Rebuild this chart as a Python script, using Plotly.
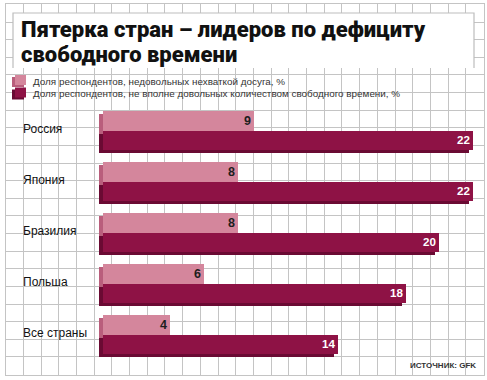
import plotly.graph_objects as go

# ---- data ----
countries = ["Россия", "Япония", "Бразилия", "Польша", "Все страны"]
short_of_leisure = [9, 8, 8, 6, 4]
not_satisfied = [22, 22, 20, 18, 14]
series_names = [
    "Доля респондентов, недовольных нехваткой досуга, %",
    "Доля респондентов, не вполне довольных количеством свободного времени, %",
]
title_lines = ["Пятерка стран – лидеров по дефициту", "свободного времени"]
source_text = "ИСТОЧНИК: GFK"

# ---- styling ----
W, H = 487, 380
LIGHT, LIGHT_SIDE = "#D4869C", "#B95E7C"
DARK, DARK_SIDE = "#8E1245", "#6A0A33"
GRID = "#C4C4C4"

X0_PX, UNIT_PX = 103.0, 16.82      # value axis: pixel of zero, pixels per unit
Y0_PX, GROUP_PX = 131.0, 51.0      # category axis: pixel of first group, pixels per group

def px(x):
    return x / W

def py(y):
    return 1 - y / H

pos = list(range(len(countries)))
shift_x = 4 / UNIT_PX
shift_y = 3 / GROUP_PX
light_w = 20 / GROUP_PX
dark_w = 19 / GROUP_PX

fig = go.Figure()

# empty trace so the background grid subplot is drawn
fig.add_trace(go.Scatter(x=[], y=[], xaxis="x", yaxis="y", showlegend=False, hoverinfo="skip"))

# depth (3D side) of light bars
fig.add_trace(go.Bar(
    x=short_of_leisure, y=pos, base=-shift_x, orientation="h",
    offset=-light_w + shift_y, width=light_w,
    marker=dict(color=LIGHT_SIDE, line=dict(width=0)),
    xaxis="x2", yaxis="y2", showlegend=False, hoverinfo="skip",
))
# light faces
fig.add_trace(go.Bar(
    x=short_of_leisure, y=pos, orientation="h", name=series_names[0],
    offset=-light_w, width=light_w,
    marker=dict(color=LIGHT, line=dict(width=0)),
    text=[str(v) for v in short_of_leisure], textposition="inside",
    insidetextanchor="end", textangle=0,
    textfont=dict(family="Liberation Sans", size=12.5, color="#1E1E1E", weight="bold"),
    xaxis="x2", yaxis="y2", showlegend=False,
))
# depth of dark bars
fig.add_trace(go.Bar(
    x=not_satisfied, y=pos, base=-shift_x, orientation="h",
    offset=shift_y, width=dark_w,
    marker=dict(color=DARK_SIDE, line=dict(width=0)),
    xaxis="x2", yaxis="y2", showlegend=False, hoverinfo="skip",
))
# dark faces
fig.add_trace(go.Bar(
    x=not_satisfied, y=pos, orientation="h", name=series_names[1],
    offset=0, width=dark_w,
    marker=dict(color=DARK, line=dict(width=0)),
    text=[str(v) for v in not_satisfied], textposition="inside",
    insidetextanchor="end", textangle=0,
    textfont=dict(family="Liberation Sans", size=12.5, color="white", weight="bold"),
    xaxis="x2", yaxis="y2", showlegend=False,
))

shapes = []
annotations = []

# title box
shapes.append(dict(type="rect", xref="paper", yref="paper",
                   x0=px(13), x1=px(474), y0=py(68), y1=py(13),
                   fillcolor="white", line=dict(width=0), layer="above"))
shapes.append(dict(type="path", xref="paper", yref="paper",
                   path=f"M{px(13)},{py(68)} L{px(13)},{py(13)} L{px(474)},{py(13)} L{px(474)},{py(68)}",
                   line=dict(color="#BDBDBD", width=1.2), layer="above"))

for k, line in enumerate(title_lines):
    annotations.append(dict(text=line, xref="paper", yref="paper",
                            x=px(19), y=py(29 + 25.5 * k), xanchor="left", yanchor="middle",
                            showarrow=False,
                            font=dict(family="Roboto", size=22, color="#111111", weight=900)))

# legend
for k, (name, face, side) in enumerate(zip(series_names, [LIGHT, DARK], [LIGHT_SIDE, DARK_SIDE])):
    yc = 81 + 12.5 * k
    shapes.append(dict(type="rect", xref="paper", yref="paper",
                       x0=px(12), x1=px(24), y0=py(yc + 6), y1=py(yc - 4),
                       fillcolor=side, line=dict(width=0), layer="above"))
    shapes.append(dict(type="rect", xref="paper", yref="paper",
                       x0=px(15), x1=px(26), y0=py(yc + 4), y1=py(yc - 6),
                       fillcolor=face, line=dict(width=0), layer="above"))
    annotations.append(dict(text=name, xref="paper", yref="paper",
                            x=px(31), y=py(yc), xanchor="left", yanchor="middle", showarrow=False,
                            font=dict(family="Liberation Sans", size=9.9, color="#333333")))

# category labels
for i, c in zip(pos, countries):
    annotations.append(dict(text=c, xref="paper", yref="y2", x=px(21), y=i - 0.04,
                            xanchor="left", yanchor="middle", showarrow=False,
                            font=dict(family="Liberation Sans", size=12, color="#111111")))

# source
annotations.append(dict(text=source_text, xref="paper", yref="paper", x=px(478), y=py(365),
                        xanchor="right", yanchor="middle", showarrow=False,
                        font=dict(family="Liberation Sans Narrow, Liberation Sans", size=8,
                                  color="#333333", weight="bold")))

fig.update_layout(
    width=W, height=H, margin=dict(l=0, r=0, t=0, b=0),
    paper_bgcolor="white", plot_bgcolor="rgba(0,0,0,0)",
    barmode="overlay", bargap=0,
    shapes=shapes, annotations=annotations, showlegend=False,
    # grid axes
    xaxis=dict(domain=[px(5.7), px(483.5)], range=[0, 27], dtick=1, tick0=0,
               showgrid=True, gridcolor=GRID, gridwidth=1, zeroline=False,
               showticklabels=False, ticks="", showline=True, mirror=True,
               linecolor=GRID, linewidth=1, fixedrange=True, anchor="y"),
    yaxis=dict(domain=[py(374.5), py(4.4)], range=[0, 21], dtick=1, tick0=0,
               showgrid=True, gridcolor=GRID, gridwidth=1, zeroline=False,
               showticklabels=False, ticks="", showline=True, mirror=True,
               linecolor=GRID, linewidth=1, fixedrange=True, anchor="x"),
    # data axes
    xaxis2=dict(domain=[0, 1], anchor="y2",
                range=[-X0_PX / UNIT_PX, (W - X0_PX) / UNIT_PX], visible=False),
    yaxis2=dict(domain=[0, 1], anchor="x2",
                range=[(H - Y0_PX) / GROUP_PX, -Y0_PX / GROUP_PX], visible=False),
)

fig.write_html("out.html", post_script="document.body.style.margin='0';",
               config={"displayModeBar": False})
